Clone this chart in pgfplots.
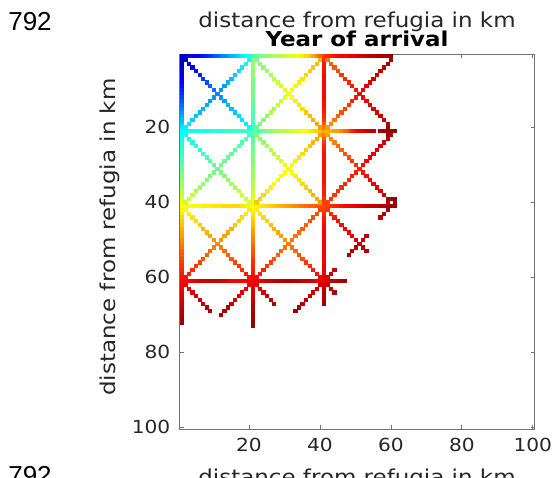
\documentclass[border=0pt]{standalone}
\usepackage{fontspec}
\setmainfont{DejaVu Sans}
\newfontfamily\stretchfont[FakeStretch=1.12]{DejaVu Sans}
\newfontfamily\numfont{Liberation Sans}
\usepackage{pgfplots}
\pgfplotsset{compat=1.18}
\definecolor{axgray}{rgb}{0.15,0.15,0.15}
\pgfplotsset{cell/.style={scatter, only marks, mark=square*, mark size=1.65pt, point meta=explicit,
  scatter/use mapped color={draw=mapped color, fill=mapped color},
  mark options={line width=0.25pt, yscale=1.056}}}
\begin{document}
\begin{tikzpicture}[x=1pt,y=1pt]
\useasboundingbox (0,0) rectangle (553,478);
\begin{axis}[
  at={(179.8pt,49pt)}, anchor=south west,
  scale only axis, width=354.8pt, height=375pt,
  xmin=0.5, xmax=100.5, ymin=0.5, ymax=100.5, y dir=reverse,
  xtick={20,40,60,80,100}, ytick={20,40,60,80,100},
  tick align=inside, major tick length=4pt,
  axis line style={draw=black!55, line width=0.8pt},
  every tick/.style={draw=black!55, line width=0.8pt},
  /pgf/number format/assume math mode=true,
  ticklabel style={font=\stretchfont\fontsize{18}{20}\selectfont, text=axgray},
  xticklabel style={yshift=-6pt},
  yticklabel style={xshift=-6pt},
  colormap/jet, point meta min=0, point meta max=100,
]
% row y=1
\addplot[cell] coordinates {(1,1) [5] (2,1) [6] (3,1) [8] (4,1) [10] (5,1) [12] (6,1) [13] (7,1) [15] (8,1) [16] (9,1) [18] (10,1) [20] (11,1) [22] (12,1) [24] (13,1) [26] (14,1) [28] (15,1) [30] (16,1) [32] (17,1) [34] (18,1) [36] (19,1) [38] (20,1) [40] (21,1) [44] (22,1) [46] (23,1) [48] (24,1) [50] (25,1) [52] (26,1) [53] (27,1) [54] (28,1) [55] (29,1) [56] (30,1) [57] (31,1) [58] (32,1) [60] (33,1) [61] (34,1) [62] (35,1) [64] (36,1) [66] (37,1) [68] (38,1) [71] (39,1) [74] (40,1) [78] (41,1) [82] (42,1) [84] (43,1) [85] (44,1) [86] (45,1) [87] (46,1) [88] (47,1) [88] (48,1) [89] (49,1) [90] (50,1) [90] (51,1) [91] (52,1) [92] (53,1) [93] (54,1) [94] (55,1) [94] (56,1) [95] (57,1) [96] (58,1) [96] (59,1) [97] (60,1) [98]};
% column x=1
\addplot[cell] coordinates {(1,2) [6] (1,3) [7] (1,4) [8] (1,5) [10] (1,6) [11] (1,7) [12] (1,8) [13] (1,9) [14] (1,10) [16] (1,11) [17] (1,12) [19] (1,13) [21] (1,14) [23] (1,15) [25] (1,16) [27] (1,17) [29] (1,18) [31] (1,19) [33] (1,20) [35] (1,21) [37] (1,22) [38] (1,23) [39] (1,24) [40] (1,25) [41] (1,26) [42] (1,27) [43] (1,28) [44] (1,29) [45] (1,30) [46] (1,31) [47] (1,32) [49] (1,33) [50] (1,34) [51] (1,35) [52] (1,36) [54] (1,37) [55] (1,38) [57] (1,39) [59] (1,40) [61] (1,41) [62] (1,42) [63] (1,43) [64] (1,44) [66] (1,45) [67] (1,46) [68] (1,47) [70] (1,48) [71] (1,49) [72] (1,50) [74] (1,51) [75] (1,52) [76] (1,53) [78] (1,54) [79] (1,55) [80] (1,56) [82] (1,57) [83] (1,58) [84] (1,59) [85] (1,60) [86] (1,61) [87] (1,62) [88] (1,63) [89] (1,64) [90] (1,65) [91] (1,66) [92] (1,67) [93] (1,68) [94] (1,69) [95] (1,70) [96] (1,71) [97] (1,72) [98]};
% row y=21
\addplot[cell] coordinates {(2,21) [38] (3,21) [38] (4,21) [39] (5,21) [39] (6,21) [39] (7,21) [40] (8,21) [40] (9,21) [40] (10,21) [41] (11,21) [41] (12,21) [41] (13,21) [42] (14,21) [42] (15,21) [42] (16,21) [43] (17,21) [43] (18,21) [43] (19,21) [44] (20,21) [44] (21,21) [45] (22,21) [46] (23,21) [47] (24,21) [48] (25,21) [50] (26,21) [51] (27,21) [52] (28,21) [54] (29,21) [55] (30,21) [56] (31,21) [57] (32,21) [58] (33,21) [59] (34,21) [60] (35,21) [62] (36,21) [63] (37,21) [64] (38,21) [66] (39,21) [67] (40,21) [69] (41,21) [70] (42,21) [70] (43,21) [70] (44,21) [71] (45,21) [72] (46,21) [74] (47,21) [77] (48,21) [80] (49,21) [84] (50,21) [87] (51,21) [89] (52,21) [90] (53,21) [92] (54,21) [93] (55,21) [94] (57,21) [96] (58,21) [97] (59,21) [97] (60,21) [98] (61,21) [99] (59,20) [97] (59,22) [97]};
% row y=41
\addplot[cell] coordinates {(2,41) [62] (3,41) [62] (4,41) [63] (5,41) [63] (6,41) [63] (7,41) [64] (8,41) [64] (9,41) [64] (10,41) [65] (11,41) [65] (12,41) [65] (13,41) [66] (14,41) [66] (15,41) [66] (16,41) [66] (17,41) [66] (18,41) [65] (19,41) [64] (20,41) [63] (21,41) [62] (22,41) [63] (23,41) [64] (24,41) [65] (25,41) [66] (26,41) [67] (27,41) [68] (28,41) [69] (29,41) [70] (30,41) [71] (31,41) [72] (32,41) [73] (33,41) [74] (34,41) [75] (35,41) [76] (36,41) [77] (37,41) [78] (38,41) [78] (39,41) [79] (40,41) [80] (41,41) [80] (42,41) [82] (43,41) [83] (44,41) [84] (45,41) [85] (46,41) [86] (47,41) [87] (48,41) [88] (49,41) [88] (50,41) [89] (51,41) [90] (52,41) [91] (53,41) [92] (54,41) [93] (55,41) [94] (56,41) [94] (57,41) [95] (58,41) [95] (59,41) [96] (60,41) [97] (61,41) [98] (59,39) [96] (59,40) [96] (59,42) [96] (60,39) [97] (61,39) [98] (61,40) [98] (58,43) [95] (57,44) [95]};
% row y=61
\addplot[cell] coordinates {(2,61) [87] (3,61) [88] (4,61) [89] (5,61) [90] (6,61) [91] (7,61) [92] (8,61) [93] (9,61) [93] (10,61) [93] (11,61) [93] (12,61) [92] (13,61) [91] (14,61) [90] (15,61) [89] (16,61) [89] (17,61) [88] (18,61) [88] (19,61) [88] (20,61) [88] (21,61) [88] (22,61) [89] (23,61) [90] (24,61) [91] (25,61) [92] (26,61) [93] (27,61) [94] (28,61) [95] (29,61) [95] (30,61) [96] (31,61) [96] (32,61) [96] (33,61) [95] (34,61) [95] (35,61) [94] (36,61) [93] (37,61) [92] (38,61) [91] (39,61) [90] (40,61) [90] (41,61) [90] (42,61) [92] (43,61) [93] (44,61) [94] (45,61) [95] (46,61) [96] (47,61) [97]};
% column x=21
\addplot[cell] coordinates {(21,2) [53] (21,3) [52] (21,4) [52] (21,5) [51] (21,6) [51] (21,7) [50] (21,8) [50] (21,9) [49] (21,10) [49] (21,11) [48] (21,12) [48] (21,13) [47] (21,14) [47] (21,15) [46] (21,16) [46] (21,17) [45] (21,18) [45] (21,19) [44] (21,20) [44] (21,22) [46] (21,23) [47] (21,24) [47] (21,25) [48] (21,26) [48] (21,27) [49] (21,28) [50] (21,29) [50] (21,30) [51] (21,31) [52] (21,32) [53] (21,33) [53] (21,34) [54] (21,35) [55] (21,36) [56] (21,37) [57] (21,38) [58] (21,39) [59] (21,40) [60] (21,42) [63] (21,43) [65] (21,44) [66] (21,45) [68] (21,46) [69] (21,47) [71] (21,48) [72] (21,49) [74] (21,50) [75] (21,51) [76] (21,52) [78] (21,53) [79] (21,54) [80] (21,55) [82] (21,56) [83] (21,57) [84] (21,58) [85] (21,59) [86] (21,60) [87] (21,62) [89] (21,63) [90] (21,64) [91] (21,65) [92] (21,66) [93] (21,67) [94] (21,68) [95] (21,69) [96] (21,70) [96] (21,71) [97] (21,72) [98] (21,73) [98]};
% column x=41
\addplot[cell] coordinates {(41,2) [84] (41,3) [85] (41,4) [86] (41,5) [86] (41,6) [87] (41,7) [87] (41,8) [87] (41,9) [87] (41,10) [87] (41,11) [87] (41,12) [87] (41,13) [87] (41,14) [86] (41,15) [86] (41,16) [85] (41,17) [84] (41,18) [82] (41,19) [79] (41,20) [75] (41,22) [75] (41,23) [79] (41,24) [82] (41,25) [84] (41,26) [85] (41,27) [86] (41,28) [86] (41,29) [86] (41,30) [86] (41,31) [86] (41,32) [86] (41,33) [86] (41,34) [86] (41,35) [86] (41,36) [85] (41,37) [85] (41,38) [84] (41,39) [83] (41,40) [82] (41,42) [82] (41,43) [84] (41,44) [85] (41,45) [86] (41,46) [87] (41,47) [87] (41,48) [88] (41,49) [88] (41,50) [88] (41,51) [88] (41,52) [88] (41,53) [88] (41,54) [88] (41,55) [88] (41,56) [88] (41,57) [89] (41,58) [89] (41,59) [89] (41,60) [90] (41,62) [92] (41,63) [93] (41,64) [94] (41,65) [95] (41,66) [96] (41,67) [97]};
% block (0,0)
\addplot[cell] coordinates {(2,2) [8] (3,3) [10] (4,4) [12] (5,5) [14] (6,6) [16] (7,7) [18] (8,8) [20] (9,9) [22] (10,10) [24] (11,11) [26] (12,12) [27] (13,13) [28] (14,14) [30] (15,15) [31] (16,16) [32] (17,17) [34] (18,18) [35] (19,19) [36] (20,20) [38]
 (20,2) [40] (19,3) [38] (18,4) [36] (17,5) [34] (16,6) [32] (15,7) [31] (14,8) [30] (13,9) [28] (12,10) [27] (10,12) [27] (9,13) [28] (8,14) [29] (7,15) [30] (6,16) [31] (5,17) [32] (4,18) [33] (3,19) [35] (2,20) [36]};
% block (1,0)
\addplot[cell] coordinates {(22,2) [50] (23,3) [51] (24,4) [52] (25,5) [53] (26,6) [54] (27,7) [55] (28,8) [57] (29,9) [58] (30,10) [60] (31,11) [61] (32,12) [62] (33,13) [64] (34,14) [65] (35,15) [66] (36,16) [68] (37,17) [69] (38,18) [70] (39,19) [71] (40,20) [72]
 (40,2) [70] (39,3) [69] (38,4) [68] (37,5) [67] (36,6) [66] (35,7) [65] (34,8) [64] (33,9) [63] (32,10) [62] (30,12) [60] (29,13) [58] (28,14) [57] (27,15) [55] (26,16) [54] (25,17) [52] (24,18) [50] (23,19) [49] (22,20) [47]};
% block (2,0)
\addplot[cell] coordinates {(42,2) [76] (43,3) [78] (44,4) [79] (45,5) [80] (46,6) [82] (47,7) [83] (48,8) [84] (49,9) [85] (50,10) [86] (51,11) [87] (52,12) [88] (53,13) [89] (54,14) [90] (55,15) [91] (56,16) [92] (57,17) [93] (58,18) [94] (59,19) [95]
 (60,2) [97] (59,3) [96] (58,4) [95] (57,5) [94] (56,6) [93] (55,7) [92] (54,8) [91] (53,9) [90] (52,10) [89] (50,12) [85] (49,13) [84] (48,14) [82] (47,15) [81] (46,16) [80] (45,17) [78] (44,18) [76] (43,19) [74] (42,20) [72]};
% block (0,1)
\addplot[cell] coordinates {(2,22) [39] (3,23) [40] (4,24) [41] (5,25) [42] (6,26) [43] (7,27) [44] (8,28) [45] (9,29) [46] (10,30) [47] (11,31) [48] (12,32) [49] (13,33) [51] (14,34) [52] (15,35) [54] (16,36) [55] (17,37) [56] (18,38) [57] (19,39) [58] (20,40) [59]
 (20,22) [44] (19,23) [45] (18,24) [45] (17,25) [46] (16,26) [46] (15,27) [47] (14,28) [47] (13,29) [48] (12,30) [48] (10,32) [49] (9,33) [50] (8,34) [51] (7,35) [52] (6,36) [53] (5,37) [55] (4,38) [56] (3,39) [57] (2,40) [58]};
% block (1,1)
\addplot[cell] coordinates {(22,22) [50] (23,23) [51] (24,24) [52] (25,25) [54] (26,26) [55] (27,27) [56] (28,28) [58] (29,29) [59] (30,30) [60] (31,31) [62] (32,32) [63] (33,33) [64] (34,34) [65] (35,35) [66] (36,36) [67] (37,37) [69] (38,38) [70] (39,39) [71] (40,40) [73]
 (40,22) [72] (39,23) [71] (38,24) [70] (37,25) [68] (36,26) [67] (35,27) [66] (34,28) [65] (33,29) [64] (32,30) [63] (30,32) [62] (29,33) [62] (28,34) [63] (27,35) [63] (26,36) [64] (25,37) [65] (24,38) [66] (23,39) [67] (22,40) [68]};
% block (2,1)
\addplot[cell] coordinates {(42,22) [72] (43,23) [74] (44,24) [75] (45,25) [77] (46,26) [78] (47,27) [79] (48,28) [80] (49,29) [82] (50,30) [83] (51,31) [85] (52,32) [86] (53,33) [87] (54,34) [88] (55,35) [89] (56,36) [90] (57,37) [91] (58,38) [93]
 (60,22) [95] (59,23) [94] (58,24) [93] (57,25) [92] (56,26) [91] (55,27) [90] (54,28) [89] (53,29) [88] (52,30) [87] (50,32) [85] (49,33) [85] (48,34) [84] (47,35) [84] (46,36) [83] (45,37) [83] (44,38) [82] (43,39) [82] (42,40) [81]};
% block (0,2)
\addplot[cell] coordinates {(2,42) [63] (3,43) [64] (4,44) [65] (5,45) [66] (6,46) [67] (7,47) [69] (8,48) [70] (9,49) [71] (10,50) [73] (11,51) [74] (12,52) [75] (13,53) [77] (14,54) [78] (15,55) [79] (16,56) [81] (17,57) [82] (18,58) [83] (19,59) [85] (20,60) [86]
 (20,42) [64] (19,43) [65] (18,44) [66] (17,45) [67] (16,46) [68] (15,47) [70] (14,48) [71] (13,49) [72] (12,50) [73] (10,52) [75] (9,53) [77] (8,54) [78] (7,55) [79] (6,56) [81] (5,57) [82] (4,58) [83] (3,59) [85] (2,60) [86]};
% block (1,2)
\addplot[cell] coordinates {(22,42) [64] (23,43) [65] (24,44) [66] (25,45) [67] (26,46) [69] (27,47) [70] (28,48) [71] (29,49) [72] (30,50) [73] (31,51) [75] (32,52) [76] (33,53) [77] (34,54) [79] (35,55) [80] (36,56) [82] (37,57) [83] (38,58) [85] (39,59) [86] (40,60) [87]
 (40,42) [81] (39,43) [80] (38,44) [80] (37,45) [79] (36,46) [78] (35,47) [78] (34,48) [77] (33,49) [76] (32,50) [76] (30,52) [76] (29,53) [77] (28,54) [78] (27,55) [79] (26,56) [81] (25,57) [82] (24,58) [84] (23,59) [85] (22,60) [87]};
% block (2,2) partial and around (41,61)
\addplot[cell] coordinates {(42,42) [82] (43,43) [84] (44,44) [85] (45,45) [86] (46,46) [87] (47,47) [88] (48,48) [89] (49,49) [90] (50,50) [91] (51,51) [93] (52,52) [94] (53,53) [96]
 (53,49) [95] (52,50) [94] (50,52) [94] (49,53) [95] (48,54) [96]
 (44,58) [93] (43,59) [92] (42,60) [91] (42,62) [93] (43,63) [94] (44,64) [95]};
% blocks below row 61
\addplot[cell] coordinates {(2,62) [89] (3,63) [90] (4,64) [91] (5,65) [92] (6,66) [93] (7,67) [94] (8,68) [95] (9,69) [96]
 (20,62) [89] (19,63) [90] (18,64) [91] (17,65) [92] (16,66) [93] (15,67) [94] (14,68) [95] (13,69) [96] (12,70) [97]
 (22,62) [90] (23,63) [91] (24,64) [92] (25,65) [93] (26,66) [94] (27,67) [95]
 (40,62) [92] (39,63) [93] (38,64) [93] (37,65) [94] (36,66) [95] (35,67) [95] (34,68) [96] (33,69) [97]};
\end{axis}
\node[anchor=base, font=\numfont\fontsize{26}{28}\selectfont] at (30,447) {792};
\node[anchor=base, font=\stretchfont\fontsize{20.5}{22}\selectfont, text=axgray] at (357,450) {distance from refugia in km};
\node[anchor=base, font=\stretchfont\bfseries\fontsize{20.5}{22}\selectfont] at (357,431) {Year of arrival};
\node[anchor=base, rotate=90, font=\stretchfont\fontsize{20.5}{22}\selectfont, text=axgray] at (115,241) {distance from refugia in km};
\node[anchor=base, font=\numfont\fontsize{26}{28}\selectfont] at (30,-7) {792};
\node[anchor=base, font=\stretchfont\fontsize{20.5}{22}\selectfont, text=axgray] at (357,-7) {distance from refugia in km};
\end{tikzpicture}
\end{document}
